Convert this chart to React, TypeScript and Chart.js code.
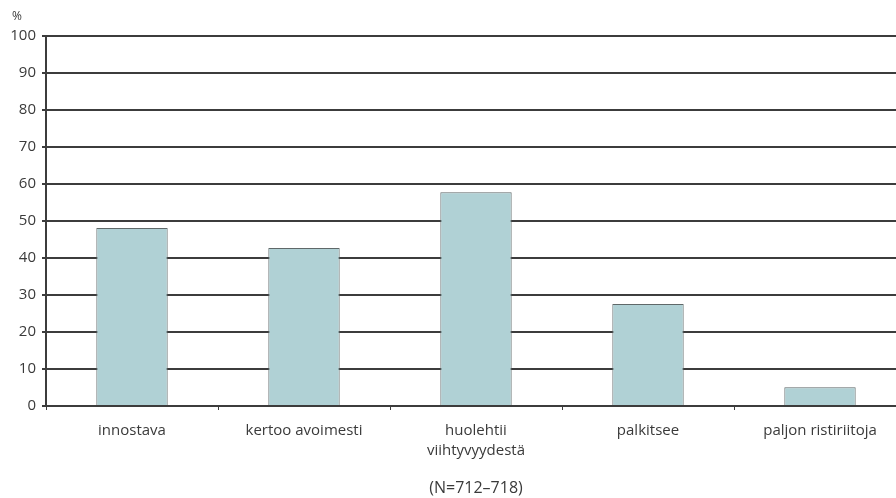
import React, { useEffect, useRef } from "react";
import { Chart, registerables } from "chart.js";

Chart.register(...registerables);

const categories: (string | string[])[] = [
  "innostava",
  "kertoo avoimesti",
  ["huolehtii", "viihtyvyydestä"],
  "palkitsee",
  "paljon ristiriitoja",
];
const values = [48.1, 42.7, 57.8, 27.6, 5.1];
const yTicks = [0, 10, 20, 30, 40, 50, 60, 70, 80, 90, 100];
const unitLabel = "%";
const footnote = "(N=712–718)";

const FONT = "'Open Sans', 'DejaVu Sans', sans-serif";
const TEXT = "#3a3a3a";
const GRID = "#3c3c3c";

const unitPlugin = {
  id: "unitLabel",
  afterDraw(chart: any) {
    const ctx = chart.ctx;
    ctx.save();
    ctx.fillStyle = TEXT;
    ctx.font = `12px ${FONT}`;
    ctx.textAlign = "center";
    ctx.textBaseline = "middle";
    ctx.fillText(unitLabel, 17, 17);
    ctx.restore();
  },
};

export default function App() {
  const ref = useRef<HTMLCanvasElement>(null);
  useEffect(() => {
    if (!ref.current) return;
    const chart = new Chart(ref.current, {
      type: "bar",
      data: {
        labels: categories,
        datasets: [
          {
            data: values,
            backgroundColor: "#b0d1d5",
            borderColor: "#5f6869",
            borderWidth: 1,
            categoryPercentage: 1,
            barPercentage: 0.415,
          },
        ],
      },
      options: {
        animation: false,
        responsive: false,
        maintainAspectRatio: false,
        layout: { padding: { top: 36, right: 14, left: 0, bottom: 0 } },
        plugins: { legend: { display: false }, tooltip: { enabled: false } },
        scales: {
          x: {
            grid: {
              display: true,
              drawOnChartArea: false,
              offset: true,
              tickLength: 4,
              color: GRID,
              lineWidth: 1,
            },
            border: { display: true, color: GRID, width: 2 },
            ticks: {
              color: TEXT,
              padding: 11,
              maxRotation: 0,
              autoSkip: false,
              font: { family: FONT, size: 15, lineHeight: 1.3 },
            },
            title: {
              display: true,
              text: footnote,
              color: TEXT,
              padding: { top: 0, bottom: 0 },
              font: { family: FONT, size: 16 },
            },
            afterFit: (s: any) => {
              s.height = 92;
            },
          },
          y: {
            min: 0,
            max: 100,
            afterBuildTicks: (s: any) => {
              s.ticks = yTicks.map((v) => ({ value: v }));
            },
            grid: {
              color: GRID,
              lineWidth: 2,
              tickLength: 4,
            },
            border: { display: true, color: GRID, width: 2 },
            ticks: {
              color: TEXT,
              padding: 6,
              font: { family: FONT, size: 15 },
            },
            afterFit: (s: any) => {
              s.width = 46;
            },
          },
        },
      },
      plugins: [unitPlugin],
    });
    return () => chart.destroy();
  }, []);
  return (
    <div
      style={{
        position: "fixed",
        left: 0,
        top: 0,
        width: 896,
        height: 498,
        overflow: "hidden",
        background: "#fff",
      }}
    >
      <canvas ref={ref} width={920} height={498} style={{ display: "block", width: 920, height: 498 }} />
    </div>
  );
}
